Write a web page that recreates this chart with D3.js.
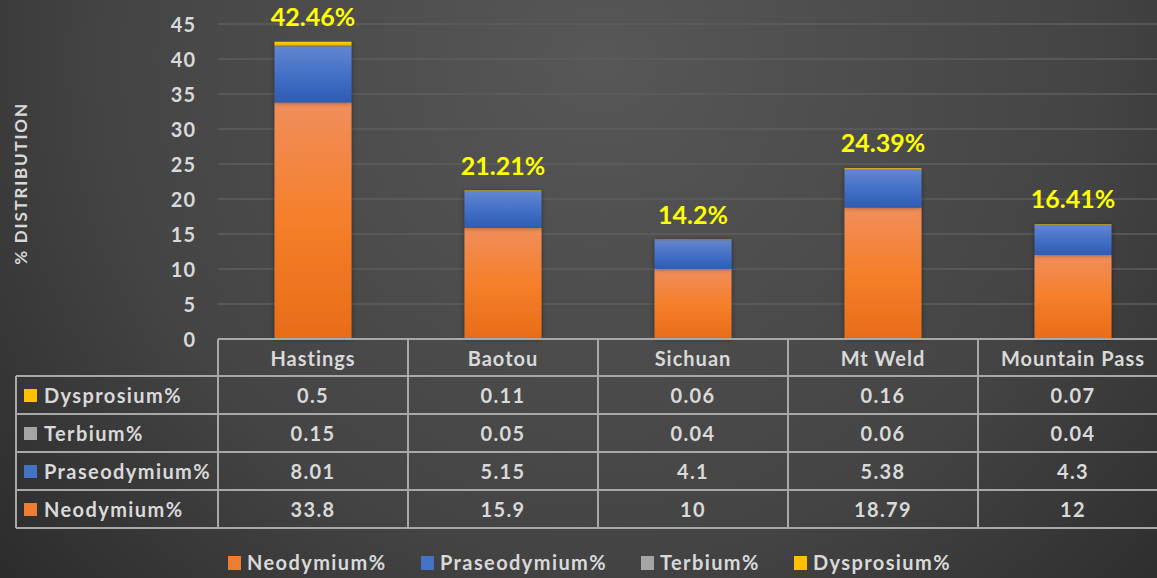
<!DOCTYPE html>
<html>
<head>
<meta charset="utf-8">
<script src="https://cdn.jsdelivr.net/npm/d3@7"></script>
<style>
  html, body { margin: 0; padding: 0; background: #2c2c2c; }
  svg { display: block; font-family: Lato, "Open Sans", sans-serif; font-weight: bold; }
</style>
</head>
<body>
<div id="chart"></div>
<script>
const sites = ["Hastings", "Baotou", "Sichuan", "Mt Weld", "Mountain Pass"];
const neodymium = [33.8, 15.9, 10, 18.79, 12];
const praseodymium = [8.01, 5.15, 4.1, 5.38, 4.3];
const terbium = [0.15, 0.05, 0.04, 0.06, 0.04];
const dysprosium = [0.5, 0.11, 0.06, 0.16, 0.07];
const yTicks = [0, 5, 10, 15, 20, 25, 30, 35, 40, 45];

const series = [
  { key: "Neodymium%", values: neodymium, stops: ["#f08e5c", "#f57f2a", "#e86c18"], swatch: "#ed7d31" },
  { key: "Praseodymium%", values: praseodymium, stops: ["#6286d0", "#4470c6", "#2d5cb5"], swatch: "#4472c4" },
  { key: "Terbium%", values: terbium, stops: ["#b5b5b5", "#a5a5a5", "#8f8f8f"], swatch: "#a5a5a5" },
  { key: "Dysprosium%", values: dysprosium, stops: ["#ffcf2a", "#ffc000", "#f0b400"], swatch: "#ffc000" }
];

const W = 1157, H = 578;
const plotTop = 24, plotBottom = 339, plotLeft = 218, colW = 190;
const rowH = 38, headerH = 37, tableLeft = 16;
const textColor = "#d9d9d9";

const svg = d3.select("#chart").append("svg")
  .attr("width", W).attr("height", H);

const defs = svg.append("defs");
const bg = defs.append("radialGradient").attr("id", "bg")
  .attr("gradientUnits", "userSpaceOnUse")
  .attr("cx", 600).attr("cy", 60).attr("r", 900);
bg.append("stop").attr("offset", 0).attr("stop-color", "#575757");
bg.append("stop").attr("offset", 0.55).attr("stop-color", "#444444");
bg.append("stop").attr("offset", 1).attr("stop-color", "#232323");

series.forEach((s, i) => {
  const g = defs.append("linearGradient").attr("id", "grad" + i)
    .attr("x1", 0).attr("y1", 0).attr("x2", 0).attr("y2", 1);
  s.stops.forEach((c, j) => {
    g.append("stop").attr("offset", j / (s.stops.length - 1)).attr("stop-color", c);
  });
});

const shadow = defs.append("filter").attr("id", "shadow")
  .attr("x", "-20%").attr("y", "-20%").attr("width", "140%").attr("height", "140%");
shadow.append("feDropShadow").attr("dx", 0).attr("dy", 0).attr("stdDeviation", 2.5)
  .attr("flood-color", "#000").attr("flood-opacity", 0.45);

svg.append("rect").attr("width", W).attr("height", H).attr("fill", "url(#bg)");

const x = d3.scaleBand().domain(sites).range([plotLeft, plotLeft + colW * sites.length]);
const y = d3.scaleLinear().domain([0, 45]).range([plotBottom, plotTop]);
const barW = x.bandwidth() * 0.405;

// gridlines
svg.append("g").selectAll("line").data(yTicks.filter(d => d > 0)).join("line")
  .attr("x1", plotLeft).attr("x2", W)
  .attr("y1", d => y(d)).attr("y2", d => y(d))
  .attr("stroke", "#5e5e5e").attr("stroke-width", 1.5);

// y axis
const yAxis = svg.append("g")
  .attr("transform", `translate(${plotLeft - 22},0)`)
  .call(d3.axisLeft(y).tickValues(yTicks).tickSize(0).tickPadding(0));
yAxis.select(".domain").remove();
yAxis.selectAll("text")
  .attr("fill", textColor).attr("font-size", 20).attr("font-family", "Lato, sans-serif")
  .attr("font-weight", "bold").attr("letter-spacing", 1).attr("dy", "0.36em");

svg.append("text")
  .attr("transform", `translate(27,${(plotTop + plotBottom) / 2 + 2}) rotate(-90)`)
  .attr("text-anchor", "middle")
  .attr("fill", textColor).attr("font-size", 17).attr("letter-spacing", 1.8)
  .text("% DISTRIBUTION");

// stacked bars
const table = sites.map((site, i) => {
  const row = { site };
  series.forEach(s => { row[s.key] = s.values[i]; });
  return row;
});
const stacked = d3.stack().keys(series.map(s => s.key))(table);

svg.append("g").selectAll("g").data(stacked).join("g")
  .attr("fill", (d, i) => `url(#grad${i})`)
  .selectAll("rect").data(d => d).join("rect")
  .attr("x", d => x(d.data.site) + (x.bandwidth() - barW) / 2)
  .attr("width", barW)
  .attr("y", d => y(d[1]))
  .attr("height", d => y(d[0]) - y(d[1]))
  .attr("filter", "url(#shadow)");

// total labels
svg.append("g").selectAll("text").data(table).join("text")
  .attr("x", d => x(d.site) + x.bandwidth() / 2)
  .attr("y", d => y(d3.sum(series, s => d[s.key])) - 16)
  .attr("text-anchor", "middle")
  .attr("fill", "#ffff00").attr("font-size", 25)
  .text(d => +d3.sum(series, s => d[s.key]).toFixed(2) + "%");

// data table
const tableRows = series.slice().reverse();
const tableBottom = plotBottom + headerH + rowH * tableRows.length;
const grid = svg.append("g").attr("stroke", "#a8a8a8").attr("stroke-width", 2);

grid.append("line").attr("x1", plotLeft).attr("x2", W)
  .attr("y1", plotBottom).attr("y2", plotBottom);
grid.selectAll(".h").data(d3.range(tableRows.length + 1)).join("line")
  .attr("x1", tableLeft).attr("x2", W)
  .attr("y1", i => plotBottom + headerH + i * rowH)
  .attr("y2", i => plotBottom + headerH + i * rowH);
grid.append("line").attr("x1", tableLeft).attr("x2", tableLeft)
  .attr("y1", plotBottom + headerH).attr("y2", tableBottom);
grid.selectAll(".v").data(sites).join("line")
  .attr("x1", d => x(d)).attr("x2", d => x(d))
  .attr("y1", plotBottom).attr("y2", tableBottom);

svg.append("g").selectAll("text").data(sites).join("text")
  .attr("x", d => x(d) + x.bandwidth() / 2)
  .attr("y", plotBottom + headerH / 2 + 1)
  .attr("dy", "0.36em").attr("text-anchor", "middle")
  .attr("fill", textColor).attr("font-size", 20).attr("letter-spacing", 1)
  .text(d => d);

const rows = svg.append("g").selectAll("g").data(tableRows).join("g")
  .attr("transform", (d, i) => `translate(0,${plotBottom + headerH + i * rowH})`);
rows.append("rect")
  .attr("x", 24).attr("y", rowH / 2 - 6).attr("width", 13).attr("height", 13)
  .attr("fill", d => d.swatch);
rows.append("text")
  .attr("x", 44).attr("y", rowH / 2 + 1).attr("dy", "0.36em")
  .attr("fill", textColor).attr("font-size", 20).attr("letter-spacing", 1.4)
  .text(d => d.key);
rows.selectAll(".val").data(d => d.values).join("text")
  .attr("x", (v, i) => x(sites[i]) + x.bandwidth() / 2)
  .attr("y", rowH / 2 + 1).attr("dy", "0.36em").attr("text-anchor", "middle")
  .attr("fill", textColor).attr("font-size", 20).attr("letter-spacing", 1.4)
  .text(v => v);

// legend
const legendX = [228, 421, 641, 794];
const legend = svg.append("g").selectAll("g").data(series).join("g")
  .attr("transform", (d, i) => `translate(${legendX[i]},563)`);
legend.append("rect").attr("x", 0).attr("y", -7).attr("width", 13).attr("height", 14)
  .attr("fill", d => d.swatch);
legend.append("text").attr("x", 19).attr("dy", "0.36em")
  .attr("fill", textColor).attr("font-size", 20).attr("letter-spacing", 1.4)
  .text(d => d.key);
</script>
</body>
</html>
